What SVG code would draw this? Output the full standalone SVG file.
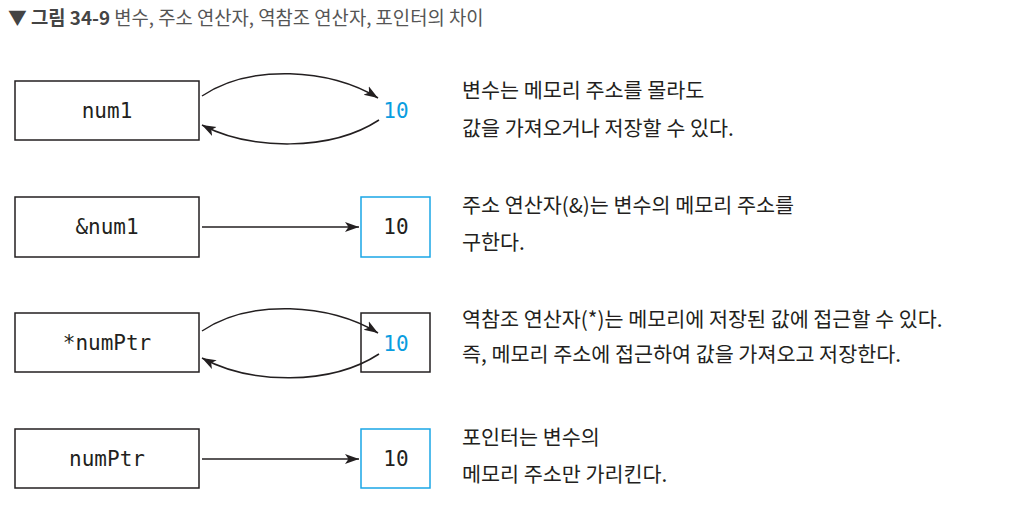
<svg xmlns="http://www.w3.org/2000/svg" width="1016" height="513" viewBox="0 0 1016 513">
<style>
.box{fill:#fff;stroke:#231f20;stroke-width:1.5}
.vbox{fill:#fff;stroke:#1aa6e6;stroke-width:1.5}
.code{font-family:"DejaVu Sans Mono","Liberation Mono",monospace;font-size:21px;fill:#231f20;text-anchor:middle}
.blue{fill:#0a9de0}
.desc{font-family:"Noto Sans CJK KR","Noto Sans",sans-serif;font-size:20.7px;fill:#231f20}
.title{font-family:"Noto Sans CJK KR","Liberation Sans",sans-serif;font-size:18.8px;fill:#555}
.conn{fill:none;stroke:#231f20;stroke-width:1.5}
</style>
<defs>
<marker id="ah" markerUnits="userSpaceOnUse" markerWidth="16" markerHeight="12" refX="14" refY="5.5" orient="auto">
<path d="M0,0.5 L14,5.5 L0,10.5 L3.5,5.5 z" fill="#231f20"/>
</marker>
</defs>
<text class="title" x="8" y="25"><tspan font-weight="bold" fill="#444">▼ 그림 34-9</tspan> 변수, 주소 연산자, 역참조 연산자, 포인터의 차이</text>

<g id="node-num1"><rect class="box" x="15" y="81" width="184" height="59"/><text class="code" x="107" y="118">num1</text></g>
<g id="val-1"><text class="code blue" x="396" y="118">10</text></g>

<g id="node-addr"><rect class="box" x="15" y="197" width="184" height="60"/><text class="code" x="107" y="234">&amp;num1</text></g>
<g id="val-2"><rect class="vbox" x="361" y="197" width="69" height="60"/><text class="code" x="396" y="234">10</text></g>

<g id="node-deref"><rect class="box" x="15" y="313" width="184" height="59"/><text class="code" x="107" y="350">*numPtr</text></g>
<g id="val-3"><rect class="box" x="361" y="313" width="69" height="59"/><text class="code blue" x="396" y="351">10</text></g>

<g id="node-ptr"><rect class="box" x="15" y="429" width="184" height="59"/><text class="code" x="107" y="466">numPtr</text></g>
<g id="val-4"><rect class="vbox" x="361" y="429" width="69" height="59"/><text class="code" x="396" y="466">10</text></g>

<g id="connectors">
<path class="conn" d="M202,96 C250,64 330,68 378,98" marker-end="url(#ah)"/>
<path class="conn" d="M379,120 C330,152 250,150 202,125" marker-end="url(#ah)"/>
<path class="conn" d="M202,227 L359,227" marker-end="url(#ah)"/>
<path class="conn" d="M202,331 C250,299 330,303 378,333" marker-end="url(#ah)"/>
<path class="conn" d="M379,354 C330,386 250,384 202,358" marker-end="url(#ah)"/>
<path class="conn" d="M202,459 L359,459" marker-end="url(#ah)"/>
</g>

<g id="descriptions">
<text class="desc" x="462" y="98">변수는 메모리 주소를 몰라도</text>
<text class="desc" x="462" y="136">값을 가져오거나 저장할 수 있다.</text>
<text class="desc" x="462" y="213">주소 연산자(&amp;)는 변수의 메모리 주소를</text>
<text class="desc" x="462" y="250">구한다.</text>
<text class="desc" x="462" y="327">역참조 연산자(*)는 메모리에 저장된 값에 접근할 수 있다.</text>
<text class="desc" x="462" y="362">즉, 메모리 주소에 접근하여 값을 가져오고 저장한다.</text>
<text class="desc" x="462" y="445">포인터는 변수의</text>
<text class="desc" x="462" y="482">메모리 주소만 가리킨다.</text>
</g>
</svg>
